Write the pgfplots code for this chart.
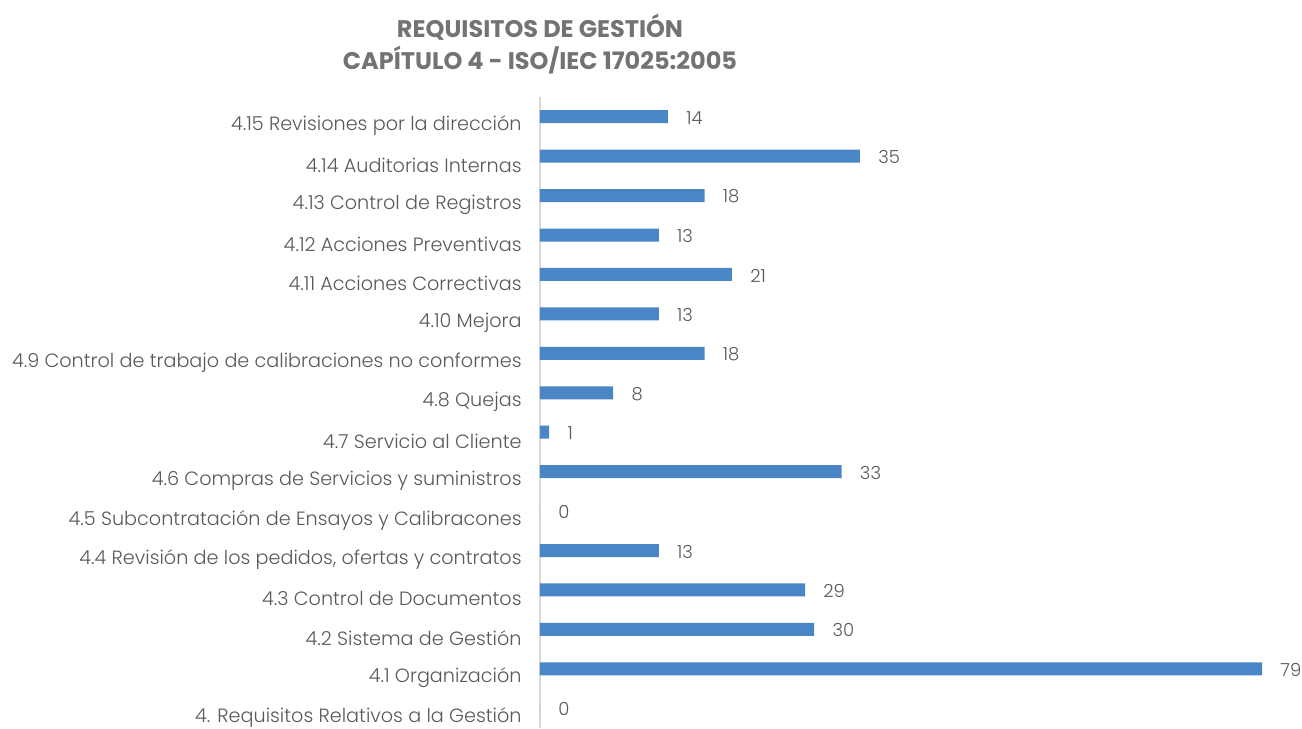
\documentclass[border=0pt]{standalone}
\usepackage{pgfplots}
\pgfplotsset{compat=1.18}
\usepackage{fontspec}
\setmainfont{Poppins}[UprightFont=* Light, BoldFont=* SemiBold]
\definecolor{barblue}{HTML}{4A86C6}
\definecolor{labelgray}{HTML}{595959}
\definecolor{titlegray}{HTML}{737373}
\definecolor{axisgray}{HTML}{D9D9D9}
\begin{document}
\begin{tikzpicture}
\begin{axis}[
  name=ax,
  scale only axis, width=361pt, height=315.5pt,
  xmin=0, xmax=79, ymin=-0.5, ymax=15.5,
  xbar, bar width=6.5pt,
  axis x line=none,
  axis y line*=left,
  y axis line style={draw=axisgray, line width=0.8pt, -},
  ytick={0,...,15},
  yticklabels={
    4. Requisitos Relativos a la Gestión,
    4.1 Organización,
    4.2 Sistema de Gestión,
    4.3 Control de Documentos,
    {4.4 Revisión de los pedidos, ofertas y contratos},
    4.5 Subcontratación de Ensayos y Calibracones,
    4.6 Compras de Servicios y suministros,
    4.7 Servicio al Cliente,
    4.8 Quejas,
    4.9 Control de trabajo de calibraciones no conformes,
    4.10 Mejora,
    4.11 Acciones Correctivas,
    4.12 Acciones Preventivas,
    4.13 Control de Registros,
    4.14 Auditorias Internas,
    4.15 Revisiones por la dirección},
  major tick length=0pt,
  yticklabel shift=9pt,
  yticklabel style={inner sep=0pt, font=\fontsize{9.6}{11}\selectfont, text=labelgray, yshift=-4.5pt},
  nodes near coords,
  point meta=x,
  nodes near coords style={anchor=west, inner sep=0pt, xshift=9pt, font=\fontsize{9}{11}\selectfont, text=labelgray, /pgf/number format/assume math mode=true, yshift=-0.5pt},
  clip=false,
]
\addplot[fill=barblue, draw=none] coordinates {
  (0,0) (79,1) (30,2) (29,3) (13,4) (0,5) (33,6) (1,7)
  (8,8) (18,9) (13,10) (21,11) (13,12) (18,13) (35,14) (14,15)
};
\end{axis}
\node[font=\fontspec{Poppins Bold}\fontsize{12}{16}\selectfont, text=titlegray, align=center] at ([yshift=26.5pt]ax.north west) {REQUISITOS DE GESTIÓN\\CAPÍTULO 4 - ISO/IEC 17025:2005};
\pgfresetboundingbox
\path ([xshift=-270pt]ax.south west) rectangle ([xshift=20pt, yshift=48.5pt]ax.north east);
\end{tikzpicture}
\end{document}
